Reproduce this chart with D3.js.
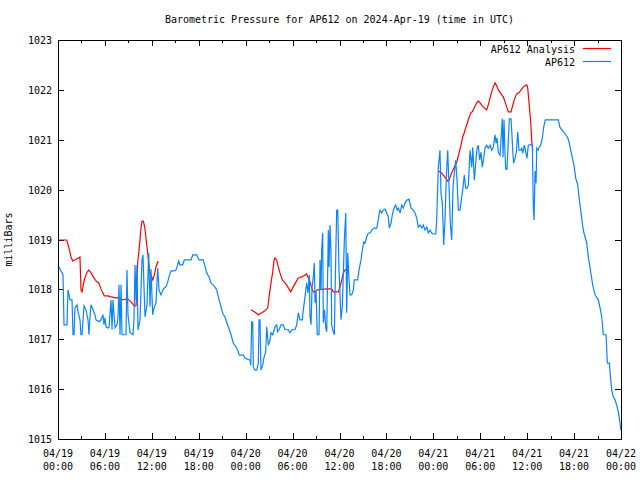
<!DOCTYPE html>
<html>
<head>
<meta charset="utf-8">
<script src="https://cdn.jsdelivr.net/npm/d3@7"></script>
<style>
  html, body { margin: 0; padding: 0; background: #fff; }
  svg { display: block; }
  text { font-family: "DejaVu Sans Mono", "Liberation Mono", monospace; font-size: 10px; fill: #000; }
</style>
</head>
<body>
<svg id="chart" width="640" height="480"></svg>
<script>
// ---- data (hours since 2024-04-19 00:00 UTC, pressure in mbar) ----
const chartTitle = "Barometric Pressure for AP612 on 2024-Apr-19 (time in UTC)";
const yLabel = "milliBars";
const seriesNames = ["AP612 Analysis", "AP612"];
const yTicks = [1015, 1016, 1017, 1018, 1019, 1020, 1021, 1022, 1023];
const xTickHours = [0, 6, 12, 18, 24, 30, 36, 42, 48, 54, 60, 66, 72];

const analysisSegments = [
  [[0.13,1018.99],[1.11,1018.99],[1.37,1018.85],[1.66,1018.65],[1.88,1018.57],[2.39,1018.61],[2.81,1018.65],
   [2.94,1017.99],[3.07,1017.95],[3.36,1018.19],[3.67,1018.33],[3.93,1018.39],[4.22,1018.33],[4.51,1018.25],
   [4.86,1018.17],[5.21,1018.13],[5.50,1018.01],[5.72,1017.93],[5.92,1017.87],[6.36,1017.87],[6.78,1017.85],
   [7.42,1017.83],[7.84,1017.83],[8.19,1017.79],[8.91,1017.81],[9.21,1017.77],[9.55,1017.71],[9.76,1017.67],
   [9.98,1017.67],[10.19,1018.53],[10.40,1018.85],[10.62,1019.23],[10.74,1019.37],[10.91,1019.37],[11.09,1019.25],
   [11.25,1019.03],[11.47,1018.73],[11.68,1018.39],[11.89,1018.29],[12.11,1018.19],[12.32,1018.29],[12.53,1018.45],
   [12.75,1018.55],[12.88,1018.55]],
  [[24.68,1017.59],[25.11,1017.55],[25.62,1017.49],[26.05,1017.53],[26.47,1017.57],[26.82,1017.63],[26.99,1017.85],
   [27.24,1018.13],[27.46,1018.35],[27.63,1018.59],[27.75,1018.63],[27.97,1018.59],[28.17,1018.45],[28.39,1018.33],
   [28.69,1018.19],[29.03,1018.13],[29.38,1018.05],[29.76,1017.95],[30.09,1018.05],[30.44,1018.15],[30.73,1018.23],
   [31.17,1018.25],[31.59,1018.29],[31.80,1018.31],[32.01,1018.23],[32.23,1018.15],[32.45,1018.03],[32.65,1017.95],
   [32.87,1017.95],[33.21,1017.99],[34.37,1018.01],[35.00,1018.01],[35.21,1017.95],[35.85,1017.95],[36.07,1018.05],
   [36.29,1018.19],[36.49,1018.33],[36.71,1018.39],[36.92,1018.41]],
  [[48.64,1020.37],[48.98,1020.35],[49.28,1020.29],[49.58,1020.23],[49.84,1020.17],[50.01,1020.19],[50.23,1020.29],
   [50.43,1020.37],[50.68,1020.45],[50.99,1020.55],[51.28,1020.73],[51.54,1020.89],[51.76,1021.06],[51.96,1021.14],
   [52.18,1021.26],[52.39,1021.36],[52.60,1021.46],[52.78,1021.54],[52.98,1021.56],[53.24,1021.64],[53.55,1021.74],
   [53.75,1021.78],[53.97,1021.74],[54.26,1021.68],[54.61,1021.62],[54.82,1021.60],[55.03,1021.70],[55.25,1021.84],
   [55.46,1021.96],[55.67,1022.06],[55.89,1022.14],[56.11,1022.08],[56.31,1022.00],[56.65,1021.92],[56.95,1021.86],
   [57.17,1021.76],[57.38,1021.66],[57.59,1021.56],[57.94,1021.56],[58.10,1021.66],[58.35,1021.80],[58.66,1021.92],
   [58.96,1021.94],[59.31,1022.02],[59.64,1022.08],[59.95,1022.10],[60.07,1022.04],[60.24,1021.74],[60.37,1021.50],
   [60.50,1021.24],[60.59,1020.96],[60.71,1020.79],[60.79,1020.79]]
];

const observed = [
  [0.00,1018.49],[0.64,1018.29],[0.77,1017.29],[1.15,1017.29],[1.28,1017.99],[1.41,1017.89],[1.53,1017.79],
  [1.79,1017.79],[1.92,1017.09],[2.05,1017.09],[2.17,1017.63],[2.43,1017.69],[2.56,1017.55],[2.81,1017.39],
  [2.94,1017.09],[3.07,1017.09],[3.20,1017.39],[3.33,1017.67],[3.58,1017.59],[3.84,1017.39],[3.96,1017.09],
  [4.09,1017.43],[4.22,1017.69],[4.48,1017.59],[4.73,1017.49],[4.86,1017.39],[5.24,1017.35],[5.50,1017.39],
  [5.76,1017.49],[5.88,1017.29],[6.01,1017.43],[6.14,1017.25],[6.39,1017.23],[6.52,1017.23],[6.78,1017.79],
  [6.91,1017.19],[7.03,1017.79],[7.29,1017.23],[7.55,1017.29],[7.67,1017.43],[7.80,1018.09],[7.93,1017.09],
  [8.06,1018.09],[8.19,1017.09],[8.70,1017.09],[8.82,1018.39],[8.95,1017.49],[9.21,1017.13],[9.59,1017.09],
  [9.72,1017.39],[9.85,1018.49],[9.98,1017.79],[10.10,1018.49],[10.23,1017.19],[10.49,1017.39],[10.74,1018.59],
  [10.87,1018.69],[11.00,1018.03],[11.13,1017.45],[11.38,1017.69],[11.60,1018.73],[11.77,1017.65],[11.89,1018.41],
  [12.11,1017.49],[12.28,1017.63],[12.53,1017.73],[12.75,1018.43],[12.92,1017.99],[13.17,1017.89],[13.43,1017.99],
  [13.60,1018.03],[13.81,1018.05],[14.03,1018.15],[14.20,1018.25],[14.45,1018.37],[14.84,1018.37],[15.09,1018.39],
  [15.31,1018.49],[15.44,1018.57],[15.60,1018.49],[15.95,1018.49],[16.15,1018.59],[17.01,1018.59],[17.23,1018.69],
  [17.74,1018.69],[18.03,1018.59],[18.58,1018.59],[18.80,1018.46],[19.02,1018.33],[19.31,1018.25],[19.57,1018.13],
  [20.08,1018.05],[20.30,1017.99],[20.50,1017.85],[20.72,1017.73],[20.94,1017.59],[21.14,1017.49],[21.36,1017.45],
  [21.58,1017.33],[21.78,1017.25],[22.13,1017.09],[22.42,1016.92],[22.73,1016.86],[22.98,1016.78],[23.19,1016.68],
  [23.70,1016.68],[23.92,1016.62],[24.56,1016.58],[24.65,1016.48],[24.77,1017.35],[24.90,1017.35],[24.98,1016.44],
  [25.19,1016.38],[25.41,1016.38],[25.62,1016.52],[25.71,1017.39],[25.83,1017.39],[25.96,1016.38],[26.18,1016.48],
  [26.35,1016.64],[26.56,1016.74],[26.69,1017.25],[26.90,1016.88],[27.11,1016.98],[27.24,1017.13],[27.46,1017.09],
  [27.75,1017.25],[27.97,1017.29],[28.10,1017.15],[28.26,1017.19],[28.52,1017.29],[28.81,1017.29],[29.03,1017.19],
  [29.45,1017.19],[29.67,1017.13],[29.89,1017.19],[30.31,1017.19],[30.53,1017.29],[30.73,1017.53],[30.95,1017.39],
  [31.24,1017.39],[31.37,1017.59],[31.59,1017.85],[31.80,1018.13],[31.97,1017.93],[32.14,1018.29],[32.23,1017.45],
  [32.36,1017.29],[32.49,1018.03],[32.65,1018.25],[32.78,1018.53],[32.87,1017.73],[33.00,1017.95],[33.16,1017.09],
  [33.38,1017.09],[33.51,1018.59],[33.64,1017.99],[33.72,1018.79],[33.85,1019.13],[33.93,1017.33],[34.08,1017.59],
  [34.24,1017.23],[34.37,1017.15],[34.57,1019.19],[34.66,1018.45],[34.79,1019.29],[34.91,1018.73],[35.00,1017.29],
  [35.21,1017.15],[35.34,1017.09],[35.43,1017.93],[35.64,1019.59],[35.77,1019.59],[35.94,1018.39],[36.19,1017.39],
  [36.36,1017.65],[36.62,1018.99],[36.80,1019.53],[36.92,1017.53],[37.05,1018.73],[37.22,1018.19],[37.35,1017.89],
  [37.56,1017.89],[37.77,1017.99],[37.89,1018.19],[38.33,1018.19],[38.50,1018.39],[38.75,1018.59],[38.92,1018.79],
  [39.10,1018.95],[39.26,1018.93],[39.48,1019.05],[39.69,1019.13],[39.94,1019.13],[40.12,1019.19],[40.45,1019.23],
  [40.76,1019.23],[40.89,1019.33],[41.05,1019.49],[41.18,1019.59],[41.40,1019.53],[41.60,1019.59],[41.82,1019.61],
  [42.04,1019.53],[42.24,1019.45],[42.37,1019.23],[42.59,1019.33],[42.75,1019.49],[42.97,1019.63],[43.19,1019.69],
  [43.39,1019.59],[43.55,1019.63],[43.74,1019.53],[43.96,1019.69],[44.16,1019.63],[44.38,1019.73],[44.60,1019.79],
  [44.89,1019.81],[45.15,1019.63],[45.44,1019.59],[45.66,1019.53],[45.88,1019.43],[46.08,1019.25],[46.30,1019.29],
  [46.52,1019.23],[46.72,1019.29],[46.94,1019.19],[47.16,1019.25],[47.36,1019.13],[47.58,1019.19],[47.79,1019.13],
  [48.00,1019.11],[48.31,1019.11],[48.43,1019.39],[48.64,1020.45],[48.85,1020.79],[48.98,1019.93],[49.15,1019.73],
  [49.33,1018.89],[49.49,1019.39],[49.66,1020.25],[49.84,1020.79],[50.01,1020.05],[50.17,1019.33],[50.35,1018.99],
  [50.52,1020.05],[50.68,1020.33],[50.86,1020.59],[51.03,1020.19],[51.20,1019.59],[51.41,1019.59],[51.63,1019.85],
  [51.80,1020.05],[51.96,1020.29],[52.14,1020.03],[52.31,1020.03],[52.48,1020.09],[52.69,1020.79],[52.91,1020.45],
  [53.04,1020.85],[53.24,1020.19],[53.42,1020.53],[53.59,1020.83],[53.75,1020.89],[53.93,1020.59],[54.10,1020.75],
  [54.26,1020.45],[54.44,1020.63],[54.61,1020.83],[54.82,1020.89],[55.03,1020.83],[55.25,1020.89],[55.46,1020.79],
  [55.67,1020.85],[55.89,1021.10],[56.02,1020.93],[56.14,1021.04],[56.31,1020.75],[56.53,1020.69],[56.65,1021.00],
  [56.82,1021.42],[56.91,1020.65],[57.04,1021.40],[57.17,1020.69],[57.26,1020.41],[57.42,1020.41],[57.55,1020.85],
  [57.72,1021.42],[57.94,1021.42],[58.03,1021.16],[58.19,1020.69],[58.28,1020.53],[58.45,1020.63],[58.62,1020.75],
  [58.79,1021.16],[58.96,1020.79],[59.18,1020.79],[59.31,1020.83],[59.43,1020.73],[59.64,1020.89],[59.82,1020.75],
  [59.98,1020.63],[60.15,1020.89],[60.66,1020.91],[60.79,1019.63],[60.88,1019.39],[61.01,1020.37],[61.14,1020.13],
  [61.22,1020.83],[61.39,1020.79],[61.52,1020.85],[61.73,1020.89],[61.94,1021.04],[62.12,1021.26],[62.32,1021.40],
  [63.99,1021.40],[64.17,1021.26],[64.42,1021.20],[64.68,1021.16],[64.93,1021.10],[65.19,1021.04],[65.35,1020.96],
  [65.57,1020.79],[65.78,1020.63],[65.99,1020.49],[66.21,1020.23],[66.47,1020.09],[66.63,1019.85],[66.89,1019.53],
  [67.05,1019.33],[67.23,1019.15],[67.40,1019.05],[67.62,1018.93],[67.82,1018.65],[68.04,1018.43],[68.38,1018.09],
  [68.68,1017.89],[69.10,1017.79],[69.32,1017.63],[69.54,1017.45],[69.74,1017.09],[70.09,1017.09],[70.26,1016.52],
  [70.51,1016.52],[70.69,1016.18],[70.82,1015.98],[71.02,1015.84],[71.24,1015.78],[71.45,1015.68],[71.66,1015.54],
  [71.88,1015.32],[71.97,1015.18]
];

const seriesColors = ["#ff0000", "#0a84ff"];

// ---- drawing ----
const start = Date.UTC(2024, 3, 19, 0, 0);
const toDate = h => new Date(start + h * 3600e3);
const m = { left: 58, right: 621, top: 40, bottom: 439 };
const svg = d3.select("#chart");

const x = d3.scaleUtc().domain([toDate(0), toDate(72)]).range([m.left, m.right]);
const y = d3.scaleLinear().domain([1015, 1023]).range([m.bottom, m.top]);

// title
svg.append("text").attr("x", (m.left + m.right) / 2).attr("y", 23)
  .attr("text-anchor", "middle").text(chartTitle);

// y label
svg.append("text").attr("transform", `translate(12,${(m.top + m.bottom) / 2}) rotate(-90)`)
  .attr("text-anchor", "middle").text(yLabel);

// ticks (gnuplot style, inward, mirrored)
const tickG = svg.append("g").attr("stroke", "#000").attr("stroke-width", 1).attr("shape-rendering", "crispEdges");
const minorHours = d3.range(0, 73, 3);
minorHours.forEach(h => {
  const len = (h % 6 === 0) ? 6 : 3;
  const xx = Math.round(x(toDate(h))) + 0.5;
  tickG.append("line").attr("x1", xx).attr("x2", xx).attr("y1", m.bottom).attr("y2", m.bottom - len);
  tickG.append("line").attr("x1", xx).attr("x2", xx).attr("y1", m.top).attr("y2", m.top + len);
});
yTicks.forEach(v => {
  const yy = Math.round(y(v)) + 0.5;
  tickG.append("line").attr("x1", m.left).attr("x2", m.left + 6).attr("y1", yy).attr("y2", yy);
  tickG.append("line").attr("x1", m.right).attr("x2", m.right - 6).attr("y1", yy).attr("y2", yy);
});

// y tick labels
svg.append("g").selectAll("text").data(yTicks).join("text")
  .attr("x", m.left - 6).attr("y", d => y(d) + 4)
  .attr("text-anchor", "end").text(d => d);

// x tick labels
const fmtDate = d3.utcFormat("%m/%d"), fmtTime = d3.utcFormat("%H:%M");
const xl = svg.append("g").selectAll("g").data(xTickHours).join("g")
  .attr("transform", h => `translate(${x(toDate(h))},0)`);
xl.append("text").attr("y", 457).attr("text-anchor", "middle").text(h => fmtDate(toDate(h)));
xl.append("text").attr("y", 470).attr("text-anchor", "middle").text(h => fmtTime(toDate(h)));

// lines
const line = d3.line().x(d => x(toDate(d[0]))).y(d => y(d[1]));
const plot = svg.append("g");
analysisSegments.forEach(seg => {
  plot.append("path").datum(seg).attr("d", line)
    .attr("fill", "none").attr("stroke", seriesColors[0]).attr("stroke-width", 1.2);
});
plot.append("path").datum(observed).attr("d", line)
  .attr("fill", "none").attr("stroke", seriesColors[1]).attr("stroke-width", 1.2);

// border
svg.append("rect").attr("x", m.left + 0.5).attr("y", m.top + 0.5)
  .attr("width", m.right - m.left).attr("height", m.bottom - m.top)
  .attr("fill", "none").attr("stroke", "#000").attr("stroke-width", 1).attr("shape-rendering", "crispEdges");

// legend
const legend = svg.append("g");
seriesNames.forEach((name, i) => {
  const ly = 53 + i * 13;
  legend.append("text").attr("x", 575).attr("y", ly).attr("text-anchor", "end").text(name);
  legend.append("line").attr("x1", 583).attr("x2", 611).attr("y1", ly - 4.5).attr("y2", ly - 4.5)
    .attr("stroke", seriesColors[i]).attr("stroke-width", 1.2);
});
</script>
</body>
</html>
